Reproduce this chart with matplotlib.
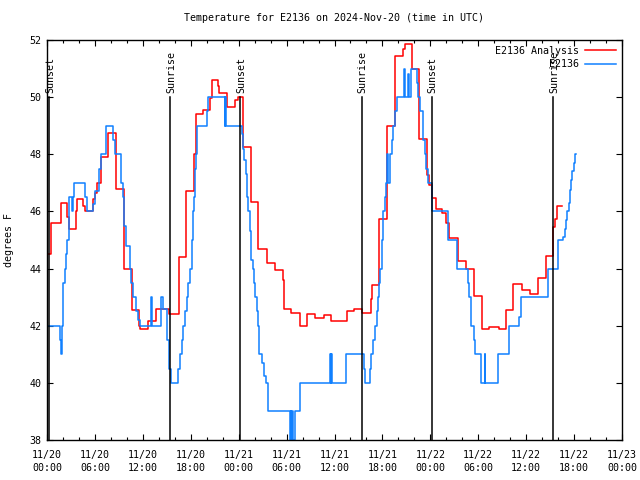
import numpy as np
import matplotlib
matplotlib.use("Agg")
import matplotlib.pyplot as plt

plt.rcParams['font.family'] = ['DejaVu Sans Mono']
plt.rcParams['font.size'] = 7.2

# hours since 11/20 00:00 UTC, analysis temperature (step data)
analysis_h = [0.0, 0.54, 1.7, 2.5, 2.7, 3.6, 3.7, 4.5, 4.7, 5.7, 6.0, 6.2, 6.8, 7.7,
              8.6, 9.6, 10.6, 11.5, 11.7, 12.6, 13.6, 15.3, 16.5, 17.35, 18.4, 18.6,
              19.5, 20.4, 20.6, 21.4, 21.5, 22.5, 23.5, 23.9, 24.6, 25.5, 25.6, 26.45,
              27.6, 28.6, 29.5, 29.7, 30.6, 31.7, 32.5, 33.6, 34.7, 35.6, 37.6, 38.5,
              39.5, 40.6, 40.7, 41.55, 42.6, 43.6, 44.6, 44.8, 45.65, 46.6, 47.6, 47.8,
              48.2, 48.65, 49.5, 49.9, 50.4, 51.5, 52.5, 53.5, 54.5, 55.4, 56.6, 57.5,
              58.4, 59.5, 60.5, 61.5, 62.5, 63.4, 63.6, 63.8, 64.5]
analysis_t = [44.5, 45.6, 46.3, 45.8, 45.4, 46.0, 46.45, 46.2, 46.0, 46.45, 46.65, 47.0,
              47.9, 48.75, 46.8, 44.0, 42.55, 42.0, 41.9, 42.15, 42.6, 42.4, 44.4, 46.7,
              48.0, 49.4, 49.55, 49.96, 50.6, 50.4, 50.15, 49.65, 49.9, 50.0, 48.25,
              46.78, 46.33, 44.67, 44.18, 43.95, 43.6, 42.58, 42.46, 41.99, 42.41, 42.26,
              42.36, 42.18, 42.53, 42.6, 42.45, 42.95, 43.42, 45.72, 48.99, 51.44, 51.67,
              51.85, 51.0, 48.53, 47.27, 46.93, 46.47, 46.1, 45.93, 45.58, 45.06, 44.27,
              43.97, 43.04, 41.87, 41.94, 41.87, 42.55, 43.46, 43.25, 43.1, 43.66, 44.44,
              45.47, 45.72, 46.19, 46.19]

# station observations (step data)
station_h = [0.0, 1.58, 1.7, 1.92, 2.04, 2.2, 2.38, 2.46, 2.75, 3.17, 3.3, 3.38, 4.75,
             4.96, 5.8, 5.96, 6.5, 6.8, 7.34, 8.3, 8.47, 9.3, 9.55, 9.7, 9.84, 10.35,
             10.55, 10.8, 11.1, 11.4, 11.64, 13.0, 13.2, 14.23, 14.56, 14.98, 15.27,
             15.52, 16.44, 16.65, 16.86, 17.06, 17.27, 17.48, 17.69, 17.9, 18.1, 18.23,
             18.4, 18.52, 18.65, 18.8, 20.0, 20.2, 22.3, 22.35, 22.4, 24.45, 24.57, 24.7,
             24.9, 25.03, 25.2, 25.4, 25.53, 25.6, 25.82, 25.95, 26.1, 26.25, 26.37,
             26.53, 26.95, 27.2, 27.37, 27.7, 30.4, 30.5, 30.6, 30.7, 30.8, 31.04, 31.66,
             35.4, 35.5, 35.6, 35.65, 37.42, 39.67, 39.85, 40.4, 40.6, 40.85, 41.05,
             41.26, 41.4, 41.55, 41.67, 41.9, 42.1, 42.3, 42.43, 42.6, 42.7, 42.93, 43.14,
             43.34, 43.55, 43.77, 44.72, 44.8, 45.2, 45.3, 45.64, 46.27, 46.47, 46.68,
             47.1, 47.3, 47.5, 47.7, 48.2, 50.15, 51.3, 51.4, 52.7, 52.9, 53.1, 53.5,
             53.6, 54.3, 54.8, 54.85, 56.5, 57.86, 59.1, 59.3, 62.74, 64.0, 64.6, 64.8,
             64.95, 65.1, 65.37, 65.5, 65.67, 65.8, 65.96, 66.1, 66.2]
station_t = [42.0, 41.5, 41.0, 42.0, 43.5, 44.0, 44.5, 45.0, 46.5, 46.0, 46.5, 47.0, 46.5,
             46.0, 46.25, 46.7, 47.5, 48.0, 49.0, 48.5, 48.0, 47.0, 46.5, 45.5, 44.8, 44.0,
             43.5, 43.0, 42.5, 42.2, 42.0, 43.0, 42.0, 43.0, 42.6, 41.5, 40.5, 40.0, 40.5,
             41.0, 41.5, 42.0, 42.5, 43.0, 43.5, 44.0, 45.0, 46.0, 46.5, 47.5, 48.0, 49.0,
             49.5, 50.0, 49.0, 50.0, 49.0, 48.7, 48.2, 47.8, 47.3, 46.5, 46.0, 45.3, 44.8,
             44.3, 44.0, 43.5, 43.0, 42.5, 42.0, 41.0, 40.7, 40.25, 40.0, 39.0, 38.0, 39.0,
             38.0, 39.0, 38.0, 39.0, 40.0, 41.0, 40.0, 41.0, 40.0, 41.0, 40.5, 40.0, 40.5,
             41.0, 41.5, 42.0, 42.5, 43.0, 43.5, 44.0, 45.0, 46.0, 46.5, 47.0, 48.0, 47.0,
             48.0, 48.5, 49.0, 49.5, 50.0, 51.0, 50.0, 50.8, 50.0, 51.0, 50.5, 50.0, 49.5,
             48.5, 48.0, 47.5, 47.0, 46.0, 45.0, 44.5, 44.0, 43.5, 43.0, 42.0, 41.5, 41.0,
             40.0, 41.0, 40.0, 41.0, 42.0, 42.3, 43.0, 44.0, 45.0, 45.1, 45.4, 45.7, 46.0,
             46.3, 46.75, 47.1, 47.4, 47.7, 48.0, 48.0]

sun_h = [0.25, 15.45, 24.15, 39.4, 48.15, 63.33]
sun_labels = ["Sunset", "Sunrise", "Sunset", "Sunrise", "Sunset", "Sunrise"]

tick_h = list(range(0, 73, 6))
tick_labels = ["11/20\n00:00", "11/20\n06:00", "11/20\n12:00", "11/20\n18:00",
               "11/21\n00:00", "11/21\n06:00", "11/21\n12:00", "11/21\n18:00",
               "11/22\n00:00", "11/22\n06:00", "11/22\n12:00", "11/22\n18:00",
               "11/23\n00:00"]

fig = plt.figure(figsize=(6.4, 4.8), dpi=100)
ax = fig.add_axes([47/640, 40/480, 575/640, 400/480])

ax.step(analysis_h, analysis_t, where='post', color='#ff0000', lw=1.1, label='E2136 Analysis')
ax.step(station_h, station_t, where='post', color='#1080ff', lw=1.1, label='E2136')

for h, lab in zip(sun_h, sun_labels):
    ax.plot([h, h], [38, 50], color='black', lw=1.1)
    ax.text(h + 0.15, 50.15, lab, rotation=90, ha='center', va='bottom')

ax.set_xlim(0, 72)
ax.set_ylim(38, 52)
ax.set_xticks(tick_h)
ax.set_xticklabels(tick_labels, linespacing=1.45)
ax.set_xticks(range(0, 73, 2), minor=True)
ax.set_yticks(range(38, 53, 2))
ax.tick_params(which='both', direction='in', top=True, right=True, width=0.8)
ax.tick_params(which='major', length=4.5, pad=7)
ax.tick_params(which='minor', length=2.5)
ax.tick_params(axis='y', pad=4)
for s in ax.spines.values():
    s.set_linewidth(1.0)

ax.set_ylabel('degrees F', fontsize=7.2, labelpad=11)
ax.set_title('Temperature for E2136 on 2024-Nov-20 (time in UTC)', fontsize=7.2, pad=14)

ax.legend(loc='upper right', frameon=False, markerfirst=False, handlelength=3.1,
          handletextpad=0.6, labelspacing=0.35, borderaxespad=0.3, borderpad=0.3)

fig.savefig('out.png', dpi=100)
